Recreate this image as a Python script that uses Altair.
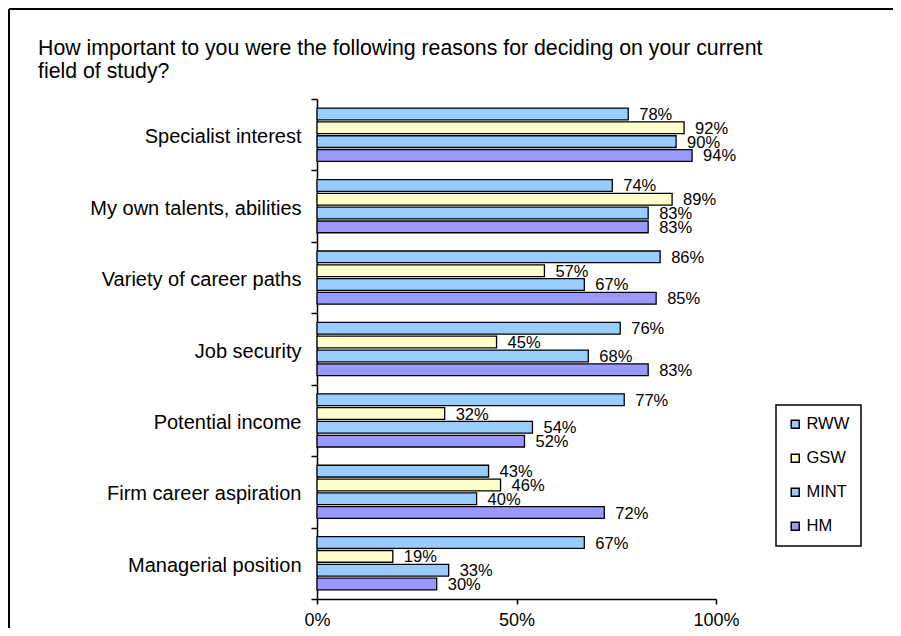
import altair as alt
import pandas as pd

categories = [
    "Specialist interest",
    "My own talents, abilities",
    "Variety of career paths",
    "Job security",
    "Potential income",
    "Firm career aspiration",
    "Managerial position",
]
series = ["RWW", "GSW", "MINT", "HM"]
rww = [78, 74, 86, 76, 77, 43, 67]
gsw = [92, 89, 57, 45, 32, 46, 19]
mint = [90, 83, 67, 68, 54, 40, 33]
hm = [94, 83, 85, 83, 52, 72, 30]
colors = ["#99CCFF", "#FFFFCC", "#99CCFF", "#9999FF"]
x_ticks = [0, 0.5, 1]
title_text = ("How important to you were the following reasons for deciding on your current\n"
              "field of study?")

rows = []
for s, vals in zip(series, [rww, gsw, mint, hm]):
    for c, v in zip(categories, vals):
        rows.append({"category": c, "series": s, "value": v / 100, "label": f"{v}%"})
df = pd.DataFrame(rows)
title_df = pd.DataFrame({"t": [title_text]})

FONT = "Liberation Sans"

y_enc = alt.Y(
    "category:N", sort=categories,
    scale=alt.Scale(paddingInner=0, paddingOuter=0),
    axis=alt.Axis(title=None, tickBand="extent", labelFontSize=20, labelPadding=10,
                  labelOffset=2, tickSize=6, tickWidth=1.5, domainWidth=1.5,
                  labelFont=FONT, labelColor="black", domainColor="black",
                  tickColor="black", labelLimit=400),
)
yoff = alt.YOffset("series:N", sort=series,
                   scale=alt.Scale(paddingInner=0.15, paddingOuter=0.66))
x_enc = alt.X(
    "value:Q",
    scale=alt.Scale(domain=[0, 1], nice=False, zero=True),
    axis=alt.Axis(values=x_ticks, format=".0%", title=None, grid=False,
                  labelFontSize=18, labelFont=FONT, labelColor="black",
                  labelPadding=7, tickSize=5, tickWidth=1.5, domainWidth=1.5,
                  domainColor="black", tickColor="black", labelFlush=False),
)

bars = alt.Chart(df).mark_bar(stroke="black", strokeWidth=1.3).encode(
    x=x_enc, y=y_enc, yOffset=yoff,
    color=alt.Color(
        "series:N", sort=series,
        scale=alt.Scale(domain=series, range=colors),
        legend=alt.Legend(title=None, orient="none", legendX=459, legendY=306,
                          direction="vertical", symbolType="square", symbolSize=64,
                          symbolStrokeColor="black", symbolStrokeWidth=1.5,
                          labelFontSize=16.5, labelFont=FONT, labelColor="black",
                          rowPadding=17, padding=11, strokeColor="black",
                          fillColor="white", labelOffset=3),
    ),
)

labels = alt.Chart(df).mark_text(
    align="left", baseline="middle", dx=11, dy=1, fontSize=16.5, font=FONT, color="black"
).encode(x=x_enc, y=y_enc, yOffset=yoff, text="label:N")

title = alt.Chart(title_df).mark_text(
    align="left", baseline="top", fontSize=21.3, font=FONT, lineHeight=23,
    color="black", lineBreak="\n",
).encode(text="t:N", x=alt.value(-279), y=alt.value(-61))

frame_top = alt.Chart(title_df).mark_rule(color="black", strokeWidth=2).encode(
    x=alt.value(-308), x2=alt.value(620), y=alt.value(-90))
frame_left = alt.Chart(title_df).mark_rule(color="black", strokeWidth=2).encode(
    x=alt.value(-308), y=alt.value(-90), y2=alt.value(620))

chart = alt.layer(frame_top, frame_left, bars, labels, title).properties(
    width=399, height=500,
    autosize=alt.AutoSizeParams(type="none"),
    padding={"left": 309, "top": 91, "right": 177, "bottom": 29},
).configure_view(strokeWidth=0).configure_legend(strokeWidth=1.5)

chart.save("out.html", embed_options={"renderer": "svg", "actions": False})
